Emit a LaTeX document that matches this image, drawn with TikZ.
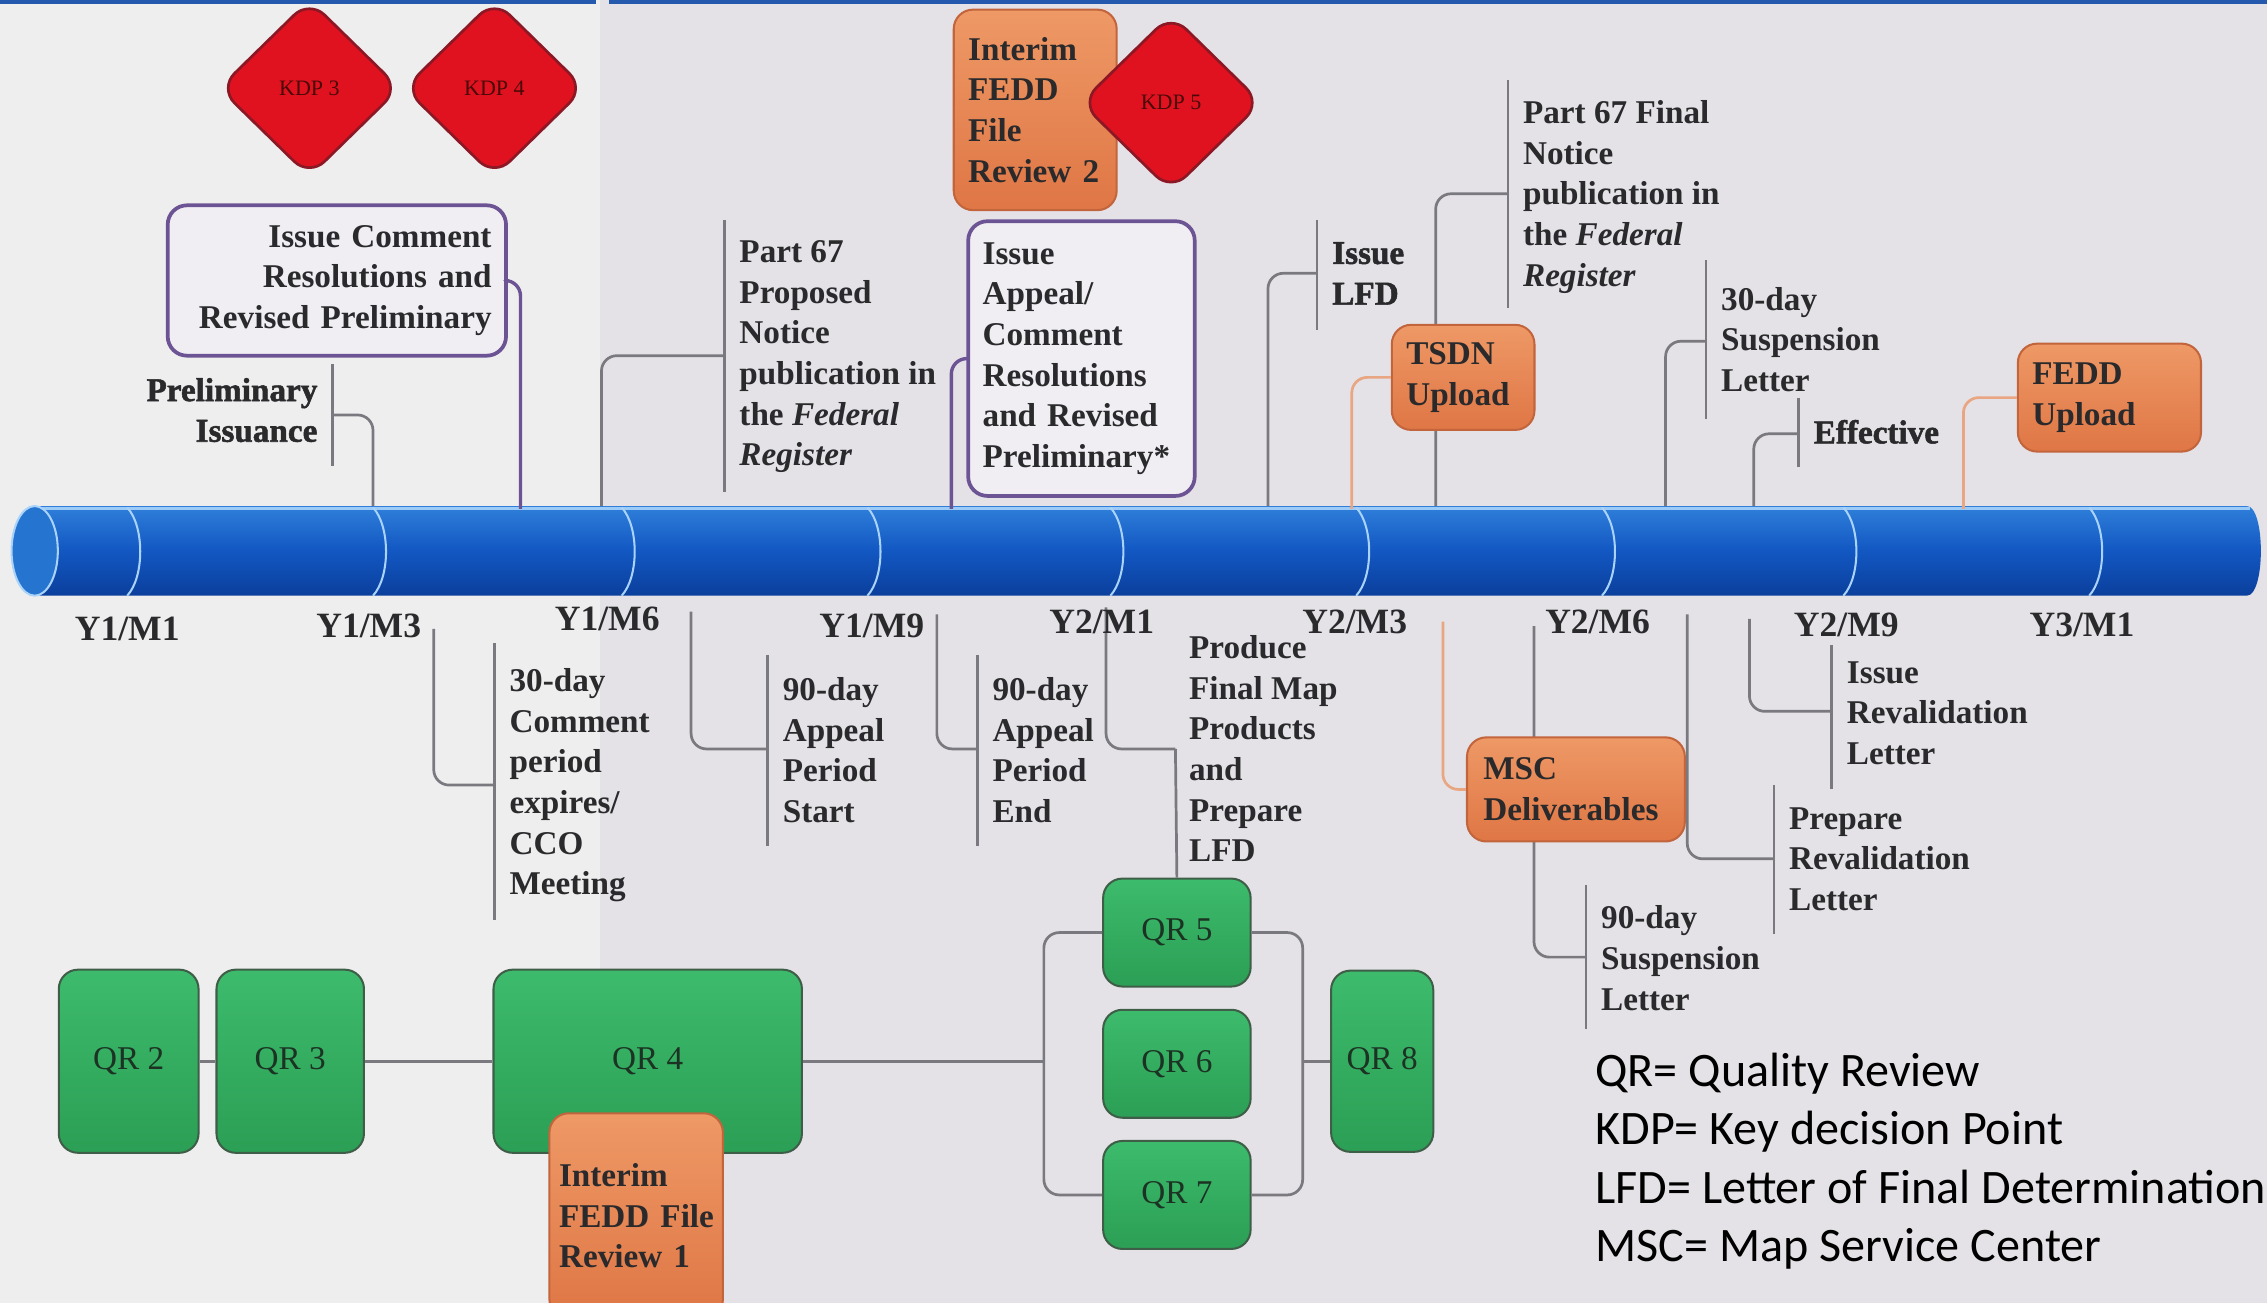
\documentclass[tikz,border=0pt]{standalone}
\usepackage{fontspec}
\setmainfont{Liberation Serif}
\newfontface\heavyfont{Liberation Serif Bold}[FakeBold=1.6]
\newfontfamily\legendfont{Carlito}
\usepackage{tikz}
\usetikzlibrary{shapes.geometric,positioning}

\definecolor{bgleft}{HTML}{EFEEEF}
\definecolor{bgright}{HTML}{E4E2E6}
\definecolor{topline}{HTML}{2459AE}
\definecolor{bartop}{HTML}{2F7FDA}
\definecolor{barmid}{HTML}{1257C2}
\definecolor{barbot}{HTML}{0B3F9C}
\definecolor{barhl}{HTML}{9CCBF7}
\definecolor{capblue}{HTML}{2474D0}
\definecolor{sepblue}{HTML}{A9D3FA}
\definecolor{kdpred}{HTML}{E0121F}
\definecolor{kdpedge}{HTML}{8C1825}
\definecolor{kdptext}{HTML}{4A0808}
\definecolor{revtop}{HTML}{EE9966}
\definecolor{revfill}{HTML}{DF7645}
\definecolor{revedge}{HTML}{C2643C}
\definecolor{revlink}{HTML}{E9A683}
\definecolor{qrtop}{HTML}{3DBB6C}
\definecolor{qrfill}{HTML}{2B9F55}
\definecolor{qredge}{HTML}{3E5E48}
\definecolor{qrtext}{HTML}{1C3324}
\definecolor{issueedge}{HTML}{6C5394}
\definecolor{issuefill}{HTML}{F0EEF2}
\definecolor{linkgray}{HTML}{7A797F}
\definecolor{ink}{HTML}{2A2A2C}

\begin{document}
\begin{tikzpicture}[x=0.15mm,y=-0.15mm,line join=round,
                    font=\fontsize{9.8}{12}\selectfont\bfseries,text=ink]
  \tikzstyle{kdp}=[diamond,aspect=1,inner sep=0pt,minimum width=18.8mm,minimum height=18.4mm,
                   rounded corners=2.2mm,fill=kdpred,draw=kdpedge,line width=0.8pt,
                   font=\fontsize{6.5}{7}\selectfont,text=kdptext]
  \tikzstyle{review}=[rectangle,rounded corners=2mm,draw=revedge,top color=revtop,bottom color=revfill,
                      line width=0.6pt,align=left,inner xsep=1.5mm,
                      font=\fontsize{9.8}{12}\selectfont\bfseries]
  \tikzstyle{issue}=[rectangle,rounded corners=2mm,draw=issueedge,fill=issuefill,line width=1.1pt,
                     inner xsep=1.5mm,font=\fontsize{9.8}{12}\selectfont\bfseries]
  \tikzstyle{qr}=[rectangle,rounded corners=2mm,draw=qredge,top color=qrtop,bottom color=qrfill,
                  line width=0.6pt,inner sep=0pt,font=\fontsize{9.8}{11}\selectfont,text=qrtext]
  \tikzstyle{lbl}=[inner sep=0pt,align=left,anchor=north west,font=\fontsize{9.8}{12}\selectfont\bfseries]
  \tikzstyle{heavy}=[font=\fontsize{9.8}{12}\selectfont\heavyfont]
  \tikzstyle{month}=[inner sep=0pt,font=\fontsize{10.5}{12}\selectfont\bfseries]
  \tikzstyle{link}=[draw=linkgray,line width=0.8pt,rounded corners=1.6mm]
  \tikzstyle{plink}=[link,draw=issueedge,line width=1pt]
  \tikzstyle{olink}=[link,draw=revlink]

  \useasboundingbox (0,0) rectangle (1568,901);

  % background
  \fill[bgright] (0,0) rectangle (1568,901);
  \fill[bgleft] (0,0) rectangle (415,901);
  \fill[topline] (0,0) rectangle (412,3);
  \fill[topline] (421,0) rectangle (1568,3);

  % where the callouts meet the timeline
  \coordinate (prelim-t) at (258,352);
  \coordinate (resol-t) at (360,352);
  \coordinate (prop-t) at (416,352);
  \coordinate (appeal-t) at (658,352);
  \coordinate (lfd-t) at (877,352);
  \coordinate (tsdn-t) at (935,352);
  \coordinate (final-t) at (993,352);
  \coordinate (susp30-t) at (1152,352);
  \coordinate (eff-t) at (1213,352);
  \coordinate (feddup-t) at (1358,352);
  \coordinate (cco-t) at (300,435);
  \coordinate (apstart-t) at (478,423);
  \coordinate (apend-t) at (648,425);
  \coordinate (produce-t) at (765,420);
  \coordinate (msc-t) at (998,430);
  \coordinate (susp90-t) at (1061,433);
  \coordinate (prep-t) at (1167,425);
  \coordinate (reval-t) at (1210,428);

  % side rules of the callouts
  \draw[link] (230,252) -- (230,322);
  \draw[link] (501,152) -- (501,340);
  \draw[link] (911,152) -- (911,228);
  \draw[link] (1043,55) -- (1043,213);
  \draw[link] (1180,180) -- (1180,290);
  \draw[link] (1244,275) -- (1244,323);
  \draw[link] (342,445) -- (342,636);
  \draw[link] (531,453) -- (531,585);
  \draw[link] (676,453) -- (676,585);
  \draw[link] (1097,612) -- (1097,712);
  \draw[link] (1227,543) -- (1227,646);
  \draw[link] (1267,446) -- (1267,546);

  \coordinate (prelim-j) at (230,287);
  \coordinate (prop-j) at (501,246);
  \coordinate (lfd-j) at (911,189);
  \coordinate (final-j) at (1043,134);
  \coordinate (susp30-j) at (1180,236);
  \coordinate (eff-j) at (1244,300);
  \coordinate (cco-j) at (342,543);
  \coordinate (apstart-j) at (531,518);
  \coordinate (apend-j) at (676,518);
  \coordinate (produce-j) at (813,518);
  \coordinate (susp90-j) at (1097,662);
  \coordinate (prep-j) at (1227,594);
  \coordinate (reval-j) at (1267,492);

  \draw[link] (prelim-j) -| (prelim-t);
  \draw[link] (prop-j) -| (prop-t);
  \draw[link] (lfd-j) -| (lfd-t);
  \draw[link] (final-j) -| (final-t);
  \draw[link] (susp30-j) -| (susp30-t);
  \draw[link] (eff-j) -| (eff-t);
  \draw[link] (cco-j) -| (cco-t);
  \draw[link] (apstart-j) -| (apstart-t);
  \draw[link] (apend-j) -| (apend-t);
  \draw[link] (produce-j) -| (produce-t);
  \draw[link] (susp90-j) -| (susp90-t);
  \draw[link] (prep-j) -| (prep-t);
  \draw[link] (reval-j) -| (reval-t);

  % timeline
  \shade[top color=bartop,bottom color=barbot,middle color=barmid]
    (24,350) -- (1554,350) .. controls (1567,350) and (1567,412) .. (1554,412) -- (24,412) -- cycle;
  \draw[barhl,line width=0.8pt] (24,351.5) -- (1556,351.5);
  \filldraw[fill=capblue,draw=sepblue,line width=0.6pt] (24,381) ellipse [x radius=16,y radius=31];
  \foreach \s in {93,263,435,605,773,943,1113,1280,1450}
    \draw[sepblue,line width=0.6pt] (\s-5,351) .. controls (\s+7,364) and (\s+7,399) .. (\s-5,412);

  \node[month] (m1) at (88,435) {Y1/M1};
  \node[month] (m2) at (255,433) {Y1/M3};
  \node[month] (m3) at (420,428) {Y1/M6};
  \node[month] (m4) at (603,433) {Y1/M9};
  \node[month] (m5) at (762,430) {Y2/M1};
  \node[month] (m6) at (937,430) {Y2/M3};
  \node[month] (m7) at (1105,430) {Y2/M6};
  \node[month] (m8) at (1277,432) {Y2/M9};
  \node[month] (m9) at (1440,432) {Y3/M1};

  % key decision points and boxes
  \node[kdp] (kdp3) at (214,61) {KDP 3};
  \node[kdp] (kdp4) at (342,61) {KDP 4};
  \node[review,text width=13.9mm,minimum height=20.8mm] (fedd2) at (716,76) {Interim\\FEDD\\File\\Review~2};
  \node[kdp] (kdp5) at (810,71) {KDP 5};

  \node[issue,align=right,text width=32.1mm,minimum height=15.6mm] (resol) at (233,194)
    {Issue~Comment\\Resolutions~and\\Revised~Preliminary};
  \node[issue,align=left,text width=20.5mm,minimum height=28.5mm] (appeal) at (748,248)
    {Issue\\Appeal/\\Comment\\Resolutions\\and~Revised\\Preliminary*};

  \node[review,text width=11.8mm,minimum height=10.9mm] (tsdn) at (1012,261) {TSDN\\Upload};
  \node[review,text width=16mm,minimum height=11.2mm] (feddup) at (1459,275) {FEDD\\Upload};
  \node[review,text width=19.2mm,minimum height=10.8mm,inner xsep=1.7mm] (msc) at (1090,546) {MSC\\Deliverables};

  \draw[plink] (resol.east) -| (resol-t);
  \draw[plink] (appeal.west) -| (appeal-t);
  \draw[olink] (tsdn.west) -| (tsdn-t);
  \draw[olink] (feddup.west) -| (feddup-t);
  \draw[olink] (msc.west) -| (msc-t);

  % callout texts
  \node[lbl,heavy,align=right,anchor=north east] (prelim) at (220,261) {Preliminary\\Issuance};
  \node[lbl] (prop) at (511,166) {Part 67\\Proposed\\Notice\\publication in\\the \textit{Federal}\\\textit{Register}};
  \node[lbl,heavy] (lfd) at (921,167) {Issue\\LFD};
  \node[lbl] (final) at (1053,69) {Part 67 Final\\Notice\\publication in\\the \textit{Federal}\\\textit{Register}};
  \node[lbl] (susp30) at (1190,198) {30-day\\Suspension\\Letter};
  \node[lbl,heavy] (eff) at (1254,290) {Effective};
  \node[lbl] (cco) at (352,462) {30-day\\Comment\\period\\expires/\\CCO\\Meeting};
  \node[lbl] (apstart) at (541,468) {90-day\\Appeal\\Period\\Start};
  \node[lbl] (apend) at (686,468) {90-day\\Appeal\\Period\\End};
  \node[lbl] (produce) at (822,439) {Produce\\Final Map\\Products\\and\\Prepare\\LFD};
  \node[lbl] (susp90) at (1107,626) {90-day\\Suspension\\Letter};
  \node[lbl] (prep) at (1237,558) {Prepare\\Revalidation\\Letter};
  \node[lbl] (reval) at (1277,457) {Issue\\Revalidation\\Letter};

  % quality reviews
  \node[qr,minimum width=14.5mm,minimum height=19mm] (qr2) at (89,734) {QR 2};
  \node[qr,minimum width=15.3mm,minimum height=19mm,right=1.65mm of qr2] (qr3) {QR 3};
  \node[qr,minimum width=32mm,minimum height=19mm] (qr4) at (448,734) {QR 4};
  \node[qr,minimum width=15.3mm,minimum height=11.2mm] (qr5) at (814,645) {QR 5};
  \node[qr,minimum width=15.3mm,minimum height=11.2mm,below=2.2mm of qr5] (qr6) {QR 6};
  \node[qr,minimum width=15.3mm,minimum height=11.2mm,below=2.2mm of qr6] (qr7) {QR 7};
  \node[qr,minimum width=10.6mm,minimum height=18.8mm] (qr8) at (956,734) {QR 8};
  \node[review,text width=16mm,inner xsep=1mm,minimum height=21.3mm] (fedd1) at (440,841) {Interim\\FEDD~File\\Review~1};

  \coordinate (fork) at (722,734);
  \coordinate (join) at (901,734);
  \draw[link] (produce-j) -- (qr5.north);
  \draw[link] (qr2) -- (qr3);
  \draw[link] (qr3) -- (qr4);
  \draw[link] (qr4) -- (fork);
  \draw[link] (qr5.west) -| (fork) |- (qr7.west);
  \draw[link] (qr5.east) -| (join) |- (qr7.east);
  \draw[link] (join) -- (qr8);

  % legend
  \node[lbl,font=\legendfont\fontsize{14.2}{17.2}\selectfont,text=black] (legend) at (1103,728)
    {QR= Quality Review\\KDP= Key decision Point\\LFD= Letter of Final Determination\\MSC= Map Service Center};
\end{tikzpicture}
\end{document}
